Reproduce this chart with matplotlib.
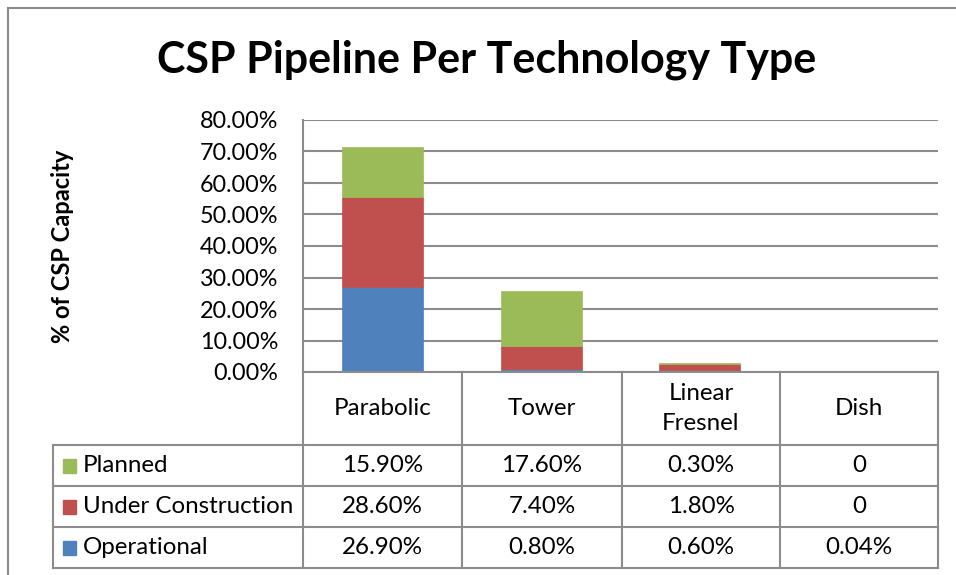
import matplotlib
matplotlib.use("Agg")
import matplotlib.pyplot as plt
from matplotlib.lines import Line2D
from matplotlib.patches import Rectangle
import numpy as np

plt.rcParams['font.family'] = ['Lato', 'DejaVu Sans']

categories = ["Parabolic", "Tower", "Linear\nFresnel", "Dish"]
series_names = ["Operational", "Under Construction", "Planned"]
operational = [26.90, 0.80, 0.60, 0.04]
under_construction = [28.60, 7.40, 1.80, 0.0]
planned = [15.90, 17.60, 0.30, 0.0]
colors = ["#4F81BD", "#C0504D", "#9BBB59"]
yticks = [0, 10, 20, 30, 40, 50, 60, 70, 80]

W, H = 956, 575
fig = plt.figure(figsize=(W / 100, H / 100), dpi=100)

def fx(x):
    return x / W

def fy(y):
    return 1 - y / H

GRAY = "#8C8C8C"
FS = 16.8
TFS = 17.4

# plot area
left, right, top, bottom = 303, 938, 120, 372
ax = fig.add_axes([fx(left), fy(bottom), fx(right - left), (bottom - top) / H])
x = np.arange(len(categories))
series = [operational, under_construction, planned]
base = np.zeros(len(categories))
for vals, c, name in zip(series, colors, series_names):
    ax.bar(x, vals, width=0.51, bottom=base, color=c, label=name, zorder=3,
           edgecolor=c, linewidth=0.5)
    base += np.array(vals)
ax.set_xlim(-0.5, len(categories) - 0.5)
ax.set_ylim(0, 80)
ax.set_yticks(yticks)
ax.set_yticklabels([f"{t:.2f}%" for t in yticks], fontsize=FS)
ax.tick_params(axis='y', length=0, pad=18)
ax.set_xticks([])
ax.grid(axis='y', color=GRAY, linewidth=1.5, zorder=0)
for s in ["top", "right", "bottom"]:
    ax.spines[s].set_visible(False)
ax.spines["left"].set_color(GRAY)
ax.spines["left"].set_linewidth(1.5)

fig.text(fx(62), fy(246), "% of CSP Capacity", rotation=90, ha='center', va='center',
         fontsize=17, fontweight='bold')

# title
fig.text(fx(487), fy(60), "CSP Pipeline Per Technology Type", ha='center', va='center',
         fontsize=31, fontweight='bold')

# outer border
fig.add_artist(Line2D([fx(7.5), fx(7.5)], [fy(7.5), fy(575)], color=GRAY, lw=1.5))
fig.add_artist(Line2D([fx(7.5), fx(956)], [fy(7.5), fy(7.5)], color=GRAY, lw=1.5))

# data table
col_edges = [303, 462, 622, 780, 938]
row_edges = [445, 486, 527, 568]
tab_left = 53

def hline(y, x0, x1):
    fig.add_artist(Line2D([fx(x0), fx(x1)], [fy(y), fy(y)], color=GRAY, lw=1.5))

def vline(x, y0, y1):
    fig.add_artist(Line2D([fx(x), fx(x)], [fy(y0), fy(y1)], color=GRAY, lw=1.5))

hline(bottom, left, right)
for ry in row_edges:
    hline(ry, tab_left, right)
vline(tab_left, row_edges[0], row_edges[-1])
for cx in col_edges:
    vline(cx, bottom, row_edges[-1])

col_centers = [(col_edges[i] + col_edges[i + 1]) / 2 for i in range(len(categories))]
for cc, cat in zip(col_centers, categories):
    fig.text(fx(cc), fy((bottom + row_edges[0]) / 2), cat, ha='center', va='center',
             fontsize=TFS, linespacing=1.55)

def fmt(v):
    return "0" if v == 0 else f"{v:.2f}%"

table_rows = list(zip(series_names, series, colors))[::-1]
for i, (name, vals, c) in enumerate(table_rows):
    yc = (row_edges[i] + row_edges[i + 1]) / 2
    fig.add_artist(Rectangle((fx(63), fy(yc + 7)), fx(13), 14 / H, color=c,
                             transform=fig.transFigure))
    fig.text(fx(83), fy(yc), name, ha='left', va='center', fontsize=TFS)
    for cc, v in zip(col_centers, vals):
        fig.text(fx(cc), fy(yc), fmt(v), ha='center', va='center', fontsize=TFS)

fig.savefig("out.png", dpi=100, facecolor='white')
